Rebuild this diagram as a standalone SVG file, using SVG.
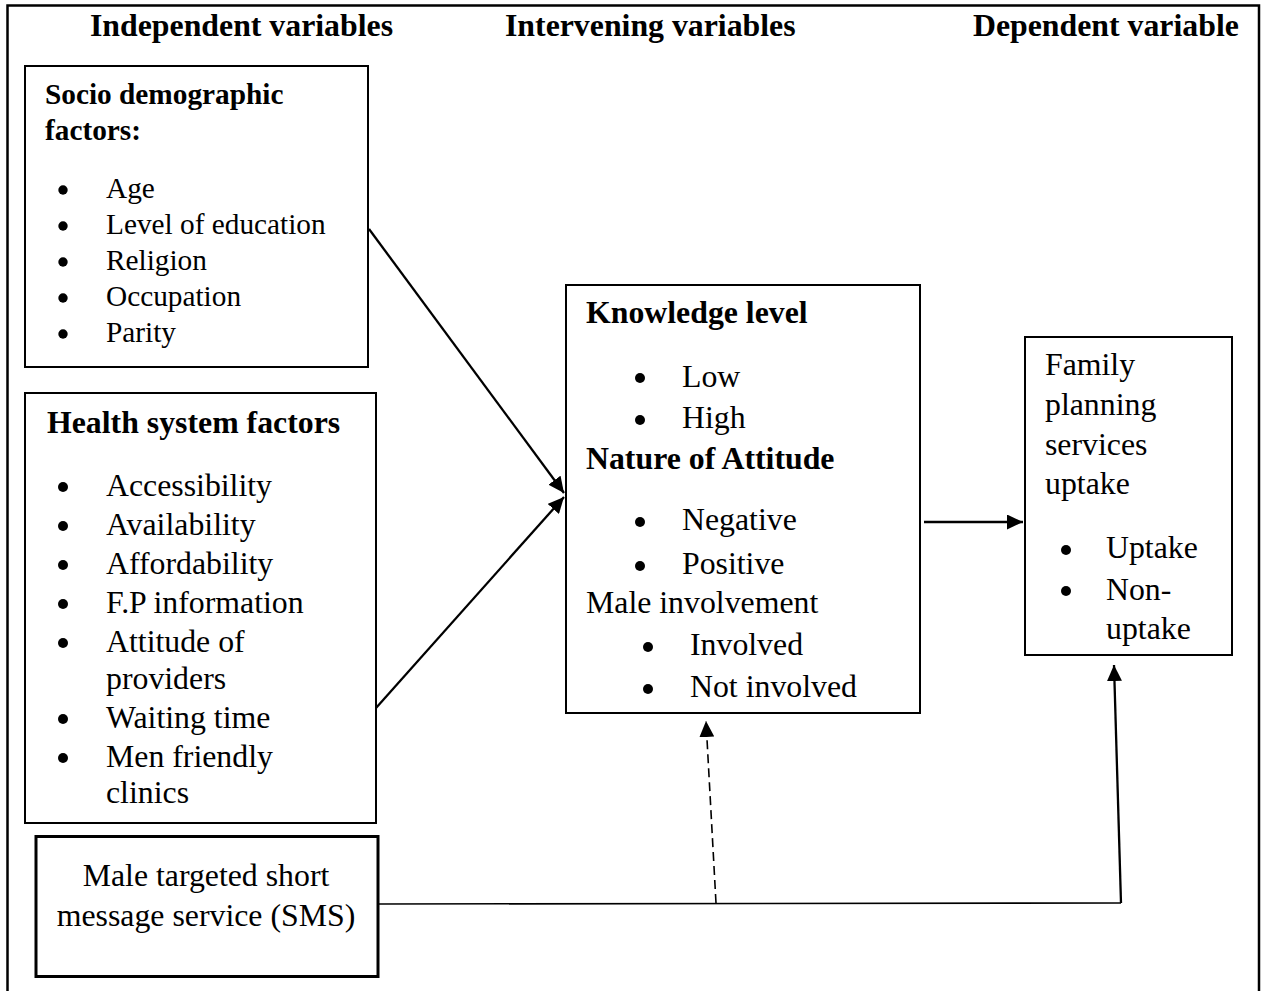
<svg xmlns="http://www.w3.org/2000/svg" width="1262" height="991" viewBox="0 0 1262 991">
<defs>
<style>
.t{font-family:"Liberation Serif","Times New Roman",serif;fill:#000}
.h{font-size:31.8px;font-weight:bold}
.b{font-size:31.8px}
.s{font-size:29.3px}
.sb{font-size:29.3px;font-weight:bold}
.box{fill:#fff;stroke:#000;stroke-width:2}
.ln{fill:none;stroke:#000;stroke-width:2.3}
</style>
<marker id="ah" markerUnits="userSpaceOnUse" markerWidth="17" markerHeight="15" refX="16" refY="7.5" orient="auto">
<path d="M0,0 L16,7.5 L0,15 z" fill="#000"/>
</marker>
</defs>
<rect x="0" y="0" width="1262" height="991" fill="#fff"/>
<rect x="7.5" y="5.5" width="1251.5" height="1000" fill="none" stroke="#000" stroke-width="2.5"/>
<g id="titles">
<text class="t h" x="90" y="36">Independent variables</text>
<text class="t h" x="505" y="36">Intervening variables</text>
<text class="t h" x="973" y="36">Dependent variable</text>
</g>
<g id="socio">
<rect class="box" x="25" y="66" width="343" height="301"/>
<text class="t sb" x="45" y="104">Socio demographic</text>
<text class="t sb" x="45" y="140">factors:</text>
<g fill="#000">
<circle cx="63" cy="190" r="4.7"/><circle cx="63" cy="226" r="4.7"/><circle cx="63" cy="262" r="4.7"/><circle cx="63" cy="298" r="4.7"/><circle cx="63" cy="334" r="4.7"/>
</g>
<text class="t s" x="106" y="198">Age</text>
<text class="t s" x="106" y="234">Level of education</text>
<text class="t s" x="106" y="270">Religion</text>
<text class="t s" x="106" y="306">Occupation</text>
<text class="t s" x="106" y="342">Parity</text>
</g>
<g id="health">
<rect class="box" x="25" y="393" width="351" height="430"/>
<text class="t h" x="47" y="433">Health system factors</text>
<g fill="#000">
<circle cx="63" cy="487" r="5"/><circle cx="63" cy="526" r="5"/><circle cx="63" cy="565" r="5"/><circle cx="63" cy="604" r="5"/><circle cx="63" cy="643" r="5"/><circle cx="63" cy="719" r="5"/><circle cx="63" cy="758" r="5"/>
</g>
<text class="t b" x="106" y="496">Accessibility</text>
<text class="t b" x="106" y="535">Availability</text>
<text class="t b" x="106" y="574">Affordability</text>
<text class="t b" x="106" y="613">F.P information</text>
<text class="t b" x="106" y="652">Attitude of</text>
<text class="t b" x="106" y="689">providers</text>
<text class="t b" x="106" y="728">Waiting time</text>
<text class="t b" x="106" y="767">Men friendly</text>
<text class="t b" x="106" y="803">clinics</text>
</g>
<g id="sms">
<rect x="36" y="836.5" width="342" height="140" fill="#fff" stroke="#000" stroke-width="3"/>
<text class="t b" x="206" y="886" text-anchor="middle">Male targeted short</text>
<text class="t b" x="206" y="926" text-anchor="middle">message service (SMS)</text>
</g>
<g id="knowledge">
<rect class="box" x="566" y="285" width="354" height="428"/>
<text class="t h" x="586" y="323">Knowledge level</text>
<g fill="#000">
<circle cx="640" cy="378" r="5"/><circle cx="640" cy="420" r="5"/><circle cx="640" cy="522" r="5"/><circle cx="640" cy="566" r="5"/><circle cx="648" cy="647" r="5"/><circle cx="648" cy="689" r="5"/>
</g>
<text class="t b" x="682" y="387">Low</text>
<text class="t b" x="682" y="428">High</text>
<text class="t h" x="586" y="469">Nature of Attitude</text>
<text class="t b" x="682" y="530">Negative</text>
<text class="t b" x="682" y="574">Positive</text>
<text class="t b" x="586" y="613">Male involvement</text>
<text class="t b" x="690" y="655">Involved</text>
<text class="t b" x="690" y="697">Not involved</text>
</g>
<g id="family">
<rect class="box" x="1025" y="337" width="207" height="318"/>
<text class="t b" x="1045" y="375">Family</text>
<text class="t b" x="1045" y="415">planning</text>
<text class="t b" x="1045" y="455">services</text>
<text class="t b" x="1045" y="494">uptake</text>
<g fill="#000">
<circle cx="1066" cy="550" r="5"/><circle cx="1066" cy="591" r="5"/>
</g>
<text class="t b" x="1106" y="558">Uptake</text>
<text class="t b" x="1106" y="600">Non-</text>
<text class="t b" x="1106" y="639">uptake</text>
</g>
<g id="connectors">
<line class="ln" x1="369" y1="229" x2="564" y2="493" marker-end="url(#ah)"/>
<line class="ln" x1="376" y1="708" x2="564" y2="497" marker-end="url(#ah)"/>
<line class="ln" x1="924" y1="522" x2="1023" y2="522" marker-end="url(#ah)"/>
<polyline fill="none" stroke="#000" stroke-width="1.6" points="379,904 1121,903"/>
<line class="ln" x1="1121" y1="903" x2="1114" y2="665" marker-end="url(#ah)"/>
<line x1="716" y1="903" x2="706" y2="721" stroke="#000" stroke-width="1.6" stroke-dasharray="9,5" marker-end="url(#ah)"/>
</g>
</svg>
